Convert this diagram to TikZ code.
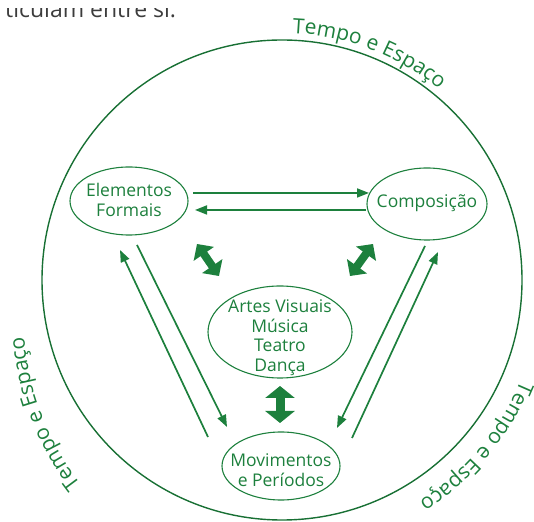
\documentclass[tikz,border=0pt]{standalone}
\usepackage{fontspec}
\setmainfont{Open Sans}
\usetikzlibrary{shapes.geometric,arrows.meta,decorations.text}
\definecolor{gr}{RGB}{29,128,61}
\definecolor{grd}{RGB}{24,112,52}
\definecolor{toptxt}{RGB}{60,60,60}
\newcommand\nodefont{\fontsize{17.5}{19.5}\selectfont}
\newcommand\lblfont{\fontsize{21}{24}\selectfont}
\begin{document}
\begin{tikzpicture}[x=1pt,y=1pt,
  oval/.style={ellipse, draw=gr, line width=1.1pt, inner sep=0pt},
  txt/.style={align=center, text=gr, font=\nodefont, inner sep=0pt},
  thinarrow/.style={draw=gr, line width=1.7pt, -{Triangle[length=12pt,width=9pt]}},
  fatarrow/.style={draw=gr, line width=8pt, {Triangle[length=12pt,width=24pt]}-{Triangle[length=12pt,width=24pt]}},
  fatvert/.style={draw=gr, line width=9pt, {Triangle[length=12pt,width=29pt]}-{Triangle[length=12pt,width=29pt]}},
  curvelbl/.style={decorate, decoration={text along path, text align=center, text={|\lblfont\color{gr}|Tempo e Espaço}}},
]
\useasboundingbox (0,0) rectangle (534,521);

% cut-off text at the top
\begin{scope}
  \clip (0,497) rectangle (534,512);
  \node[anchor=base west, inner sep=0pt, text=toptxt, font=\fontsize{23}{26}\selectfont] (toptext) at (5,503) {ticulam entre si.};
\end{scope}

% big circle
\coordinate (cc) at (282,241);
\node[circle, draw=grd, line width=1.4pt, minimum size=480pt, inner sep=0pt] (ring) at (cc) {};

% curved labels
\path[curvelbl] (cc) ++(99:247pt) arc[start angle=99, end angle=39, radius=247pt];
\coordinate (cr) at (280,239);
\path[curvelbl] (cr) ++(-5:260pt) arc[start angle=-5, end angle=-75, radius=260pt];
\coordinate (cl) at (295.5,203.6);
\path[curvelbl] (cl) ++(236:272pt) arc[start angle=236, end angle=166, radius=272pt];

% ellipses
\node[oval, minimum width=118pt, minimum height=68pt] (ef) at (129,320) {};
\node[oval, minimum width=120pt, minimum height=72pt] (cp) at (427,317) {};
\node[oval, minimum width=144pt, minimum height=92pt] (av) at (280,189) {};
\node[oval, minimum width=118pt, minimum height=68pt] (mv) at (281,55) {};

\node[txt] (efT) at (129,321) {Elementos\\Formais};
\node[txt] (cpT) at (427,317.5) {Composição};
\node[txt] (avT) at (280,183.5) {Artes Visuais\\Música\\Teatro\\Dança};
\node[txt] (mvT) at (281,51) {Movimentos\\e Períodos};

% thin arrow end points
\coordinate (h1a) at (193,328); \coordinate (h1b) at (369,328);
\coordinate (h2a) at (366,311); \coordinate (h2b) at (195,311);
\coordinate (la) at (208,84);   \coordinate (lb) at (120,271);
\coordinate (lc) at (137,276);  \coordinate (ld) at (227,94);
\coordinate (ra) at (425,275);  \coordinate (rb) at (337,93);
\coordinate (rc) at (352,83);   \coordinate (rd) at (438,269);

\draw[thinarrow] (h1a) -- (h1b);
\draw[thinarrow] (h2a) -- (h2b);
\draw[thinarrow] (la) -- (lb);
\draw[thinarrow] (lc) -- (ld);
\draw[thinarrow] (ra) -- (rb);
\draw[thinarrow] (rc) -- (rd);

% fat double arrows
\coordinate (fl1) at (197,277); \coordinate (fl2) at (219,245);
\coordinate (fr1) at (373,277); \coordinate (fr2) at (350,245);
\coordinate (fv1) at (280,135); \coordinate (fv2) at (280,98);
\draw[fatarrow] (fl1) -- (fl2);
\draw[fatarrow] (fr1) -- (fr2);
\draw[fatvert] (fv1) -- (fv2);
\end{tikzpicture}
\end{document}
